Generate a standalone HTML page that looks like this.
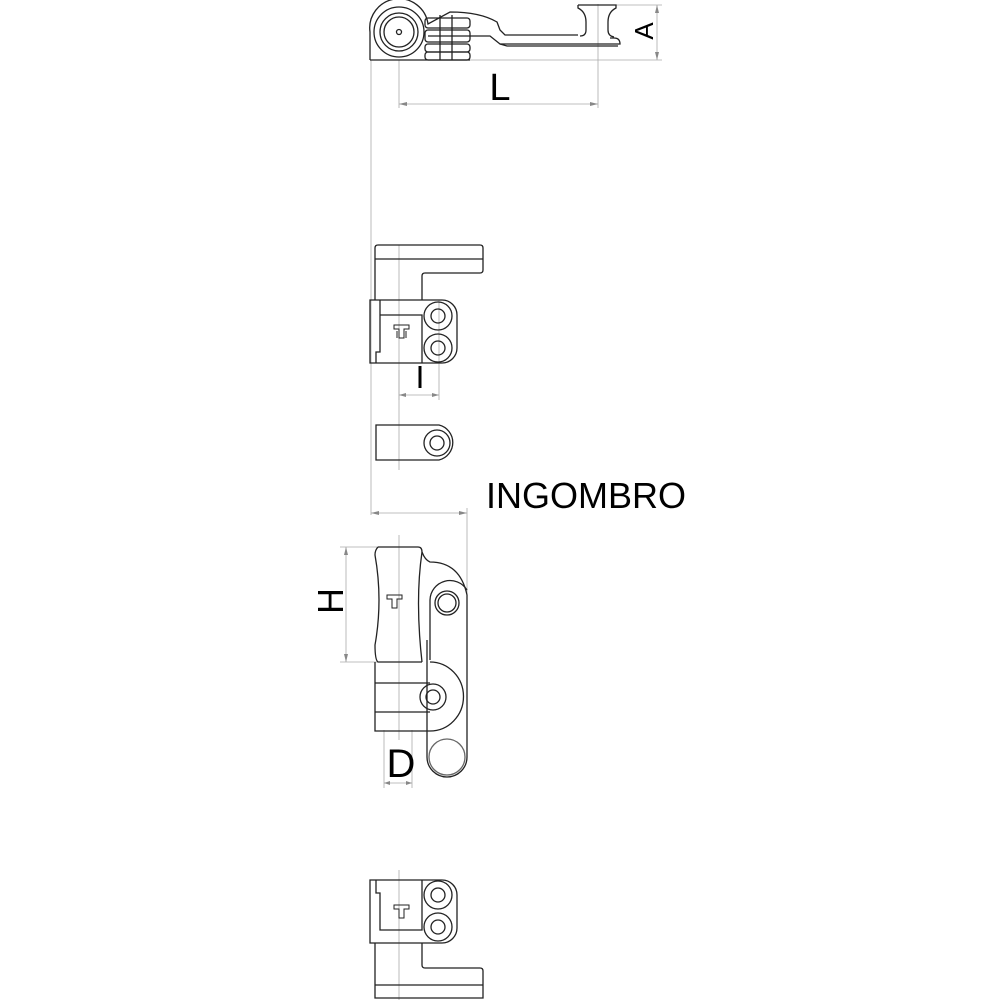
<!DOCTYPE html>
<html><head><meta charset="utf-8"><style>html,body{margin:0;padding:0;background:#fff}svg{display:block}</style></head>
<body>
<svg width="1000" height="1000" viewBox="0 0 1000 1000" xmlns="http://www.w3.org/2000/svg" font-family="Liberation Sans, sans-serif">
<g fill="none" stroke="#aaa" stroke-width="0.8">
  <line x1="371" y1="60" x2="371" y2="515"/>
  <line x1="399" y1="60" x2="399" y2="108"/>
  <line x1="598" y1="4" x2="598" y2="108"/>
  <line x1="399" y1="104" x2="598" y2="104"/>
  <line x1="600" y1="5" x2="662" y2="5"/>
  <line x1="470" y1="60" x2="662" y2="60"/>
  <line x1="657" y1="5" x2="657" y2="60"/>
  <line x1="399" y1="370" x2="399" y2="400"/>
  <line x1="439" y1="300" x2="439" y2="400"/>
  <line x1="399" y1="395" x2="439" y2="395"/>
  <line x1="371" y1="513" x2="467" y2="513"/>
  <line x1="467" y1="508" x2="467" y2="665"/>
  <line x1="340" y1="547" x2="380" y2="547"/>
  <line x1="340" y1="662" x2="380" y2="662"/>
  <line x1="346" y1="547" x2="346" y2="662"/>
  <line x1="384" y1="730" x2="384" y2="788"/>
  <line x1="412" y1="730" x2="412" y2="788"/>
  <line x1="384" y1="783" x2="412" y2="783"/>
  <line x1="399" y1="245" x2="399" y2="470"/>
  <line x1="399" y1="535" x2="399" y2="740"/>
  <line x1="399" y1="870" x2="399" y2="1000"/>
</g>
<g fill="#888">
  <path d="M399,104 l8,-2 v4z M598,104 l-8,-2 v4z"/>
  <path d="M657,5 l-2,8 h4z M657,60 l-2,-8 h4z"/>
  <path d="M399,395 l7,-2 v4z M439,395 l-7,-2 v4z"/>
  <path d="M371,513 l8,-2 v4z M467,513 l-8,-2 v4z"/>
  <path d="M346,547 l-2,8 h4z M346,662 l-2,-8 h4z"/>
  <path d="M384,783 l6,-2 v4z M412,783 l-6,-2 v4z"/>
</g>
<g fill="none" stroke="#222" stroke-width="1.3">
  <path d="M370,60 V32 A29,29 0 0 1 428,24 L450,12 Q480,12 497,22 L500,30 L505,35 H578"/>
  <line x1="370" y1="60" x2="470" y2="60"/>
  <circle cx="399" cy="32" r="25"/>
  <circle cx="399" cy="32" r="19"/>
  <circle cx="399" cy="32" r="15"/>
  <circle cx="399" cy="32" r="2.5"/>
  <rect x="425" y="18" width="45" height="10" rx="3"/>
  <rect x="425" y="30" width="45" height="12" rx="3"/>
  <rect x="425" y="44" width="45" height="8" rx="3"/>
  <rect x="425" y="52" width="45" height="8" rx="3"/>
  <line x1="440" y1="15" x2="440" y2="60"/>
  <line x1="452" y1="15" x2="452" y2="60"/>
  <path d="M428,36 H490 L500,44 H620 Q620,38 614,38 H610"/>
  <path d="M578,5 H616 V8 Q608,12 608,22 V30 Q608,36 614,37"/>
  <path d="M578,5 V8 Q586,12 586,22 V30 Q586,36 580,36"/>
  <path d="M500,44 L507,46 H618"/>
  <path d="M375,300 V248 Q375,245 378,245 H480 Q483,245 483,248 V270 Q483,273 480,273 H425 Q422,273 422,276 V300"/>
  <line x1="375" y1="259" x2="483" y2="259"/>
  <path d="M370,300 H442 A15,15 0 0 1 457,315 V348 A15,15 0 0 1 442,363 H370 Z"/>
  <path d="M380,300 V315 H422 V363 M380,315 V352 H376 V363"/>
  <circle cx="438" cy="316" r="14"/><circle cx="438" cy="316" r="7"/>
  <circle cx="438" cy="348" r="14"/><circle cx="438" cy="348" r="7"/>
  <g stroke-width="1">
    <path d="M394,325 H409 V329 H404 V338 H399 V329 H394 Z"/>
    <path d="M397,331 V338 M406,331 V338"/>
  </g>
  <path d="M376,425 H439 A18,18 0 0 1 439,460 H376 Z"/>
  <circle cx="437" cy="443" r="13"/><circle cx="437" cy="443" r="7"/>
  <path d="M378,547 H418 Q422,547 422,552 Q425,560 430,562 Q460,562 467,595 V640"/>
  <path d="M378,547 Q375,550 375,555 Q383,600 375,645 Q375,660 378,662 H422"/>
  <path d="M422,552 Q415,600 422,662"/>
  <path d="M430,660 V600 A20,20 0 0 1 467,590"/>
  <circle cx="447" cy="603" r="12"/><circle cx="447" cy="603" r="9"/>
  <path d="M375,662 V731 H430"/>
  <line x1="375" y1="683" x2="430" y2="683"/>
  <line x1="375" y1="712" x2="430" y2="712"/>
  <path d="M430,662 A33,34 0 0 1 430,731"/>
  <circle cx="433" cy="697" r="13"/><circle cx="433" cy="697" r="7"/>
  <path d="M427,640 V757 A20,20 0 0 0 467,757 V640"/>
  <circle cx="447" cy="757" r="18" stroke="#666"/>
  <g stroke-width="1">
    <path d="M387,595 H402 V599 H397 V608 H392 V599 H387 Z"/>
  </g>
  <path d="M370,880 H442 A15,15 0 0 1 457,895 V928 A15,15 0 0 1 442,943 H370 Z"/>
  <path d="M376,880 V893 H380 V930 H422 V880"/>
  <circle cx="438" cy="895" r="14"/><circle cx="438" cy="895" r="7"/>
  <circle cx="438" cy="927" r="14"/><circle cx="438" cy="927" r="7"/>
  <g stroke-width="1">
    <path d="M394,905 H409 V909 H404 V918 H399 V909 H394 Z"/>
  </g>
  <path d="M375,943 V998 H483 V971 Q483,968 480,968 H425 Q422,968 422,965 V943"/>
  <line x1="375" y1="985" x2="483" y2="985"/>
</g>
<rect x="418.5" y="366" width="3" height="22" fill="#000"/>
<g fill="#000">
  <text x="500" y="100" text-anchor="middle" font-size="38">L</text>
  <text x="657" y="31" text-anchor="middle" transform="rotate(-90 657 31)" font-size="26" dy="-4">A</text>
  <text x="486" y="508" font-size="36">INGOMBRO</text>
  <text x="330" y="601" text-anchor="middle" transform="rotate(-90 330 601)" font-size="36" dy="13">H</text>
  <text x="401" y="777" text-anchor="middle" font-size="40">D</text>
</g>
</svg>
</body></html>
